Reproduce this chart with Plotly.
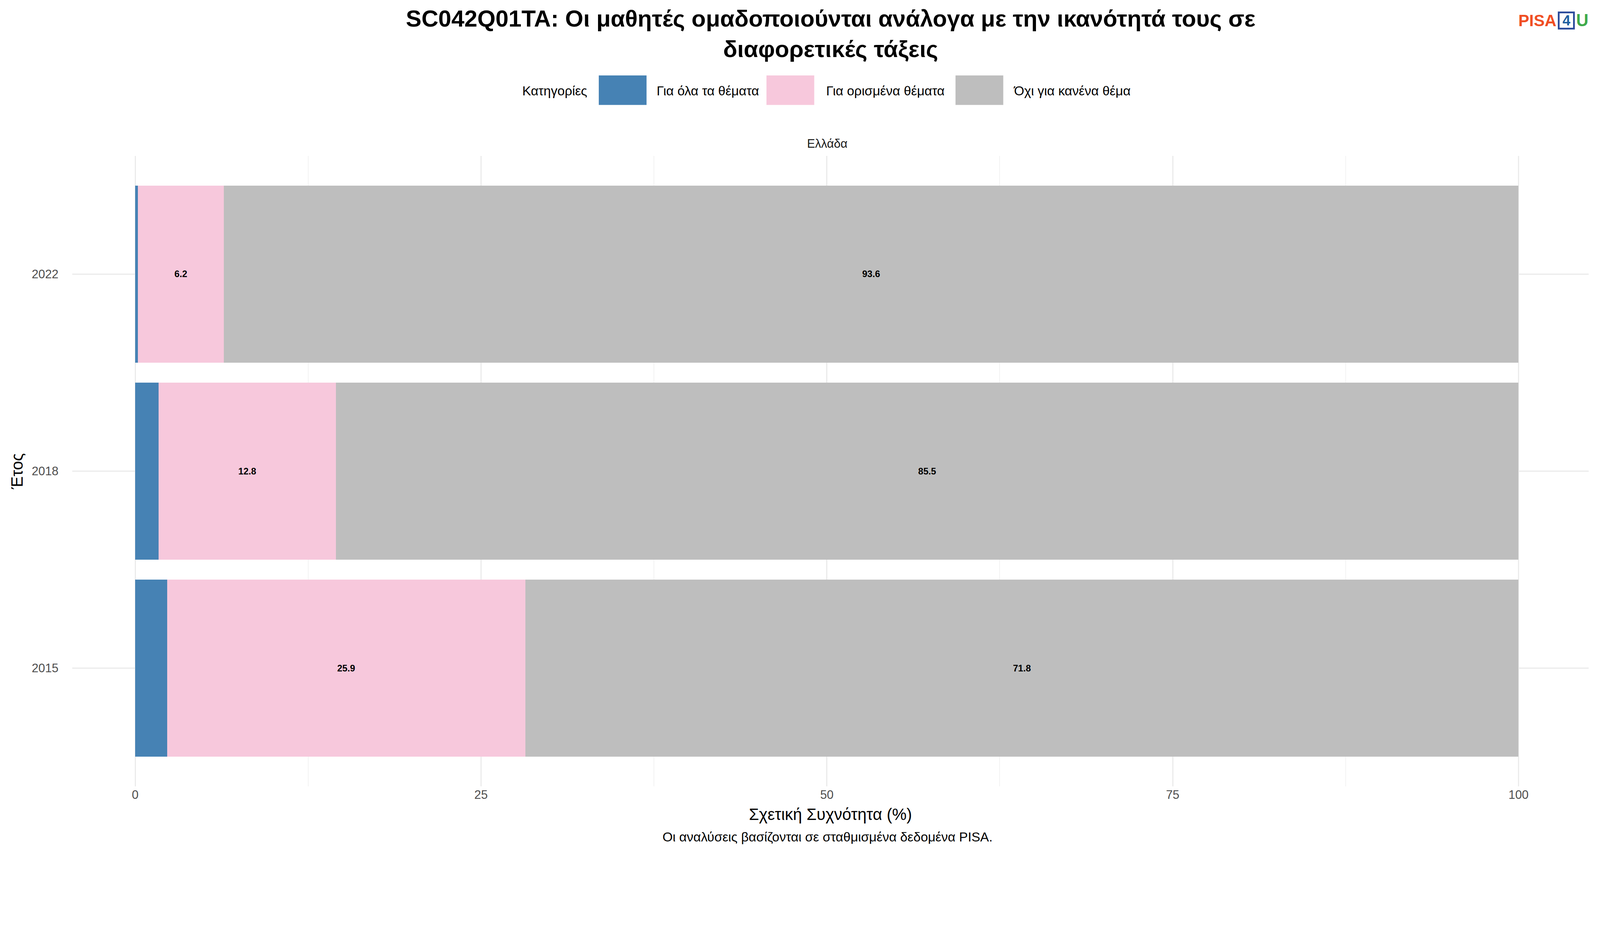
import plotly.graph_objects as go

years = ["2015", "2018", "2022"]
cats = ["Για όλα τα θέματα", "Για ορισμένα θέματα", "Όχι για κανένα θέμα"]
all_subj = [2.3, 1.7, 0.2]
some_subj = [25.9, 12.8, 6.2]
none_subj = [71.8, 85.5, 93.6]
colors = ["#4682B4", "#F7C8DC", "#BEBEBE"]
series = [all_subj, some_subj, none_subj]

K = 1 / 1.103
W, H = round(4500 * K), round(2400 * K)
S = W / 1568.0
L, R, T, B = 195 * K, 23 * K, 431 * K, 190 * K
PW = W - L - R
PH = H - T - B

def f(s):
    return s * K

def px(xd):
    return (xd * S - L) / PW

def py(yd):
    return 1 - (yd * S - T) / PH

fig = go.Figure()
for name, vals, col in zip(cats, series, colors):
    fig.add_trace(go.Bar(
        y=years, x=vals, name=name, orientation="h", marker=dict(color=col, line_width=0),
        width=0.9, showlegend=False,
        text=[f"{v:.1f}" if v >= 3 else "" for v in vals], textposition="inside",
        insidetextanchor="middle", textangle=0,
        textfont=dict(family="Liberation Sans", size=f(26), color="black", weight="bold"),
    ))

fig.update_layout(
    barmode="stack", width=W, height=H,
    margin=dict(l=L, r=R, t=T, b=B),
    paper_bgcolor="white", plot_bgcolor="white",
    font=dict(family="Liberation Sans", color="#333"),
    xaxis=dict(range=[-4.55, 105.07], tickvals=[0, 25, 50, 75, 100], showgrid=True,
               gridcolor="#EBEBEB", gridwidth=3, zeroline=False, ticks="",
               tickfont=dict(size=f(34), color="#4D4D4D"),
               minor=dict(tickvals=[12.5, 37.5, 62.5, 87.5], showgrid=True, gridcolor="#F3F3F3", gridwidth=2),
               title=dict(text="Σχετική Συχνότητα (%)", font=dict(size=f(46), color="black"), standoff=f(20))),
    yaxis=dict(categoryorder="array", categoryarray=years, range=[-0.6, 2.6],
               showgrid=True, gridcolor="#EBEBEB", gridwidth=3, ticks="",
               tickfont=dict(size=f(34), color="#4D4D4D"), ticksuffix="    ",
               title=dict(text="Έτος", font=dict(size=f(46), color="black"), standoff=f(10))),
)

ann = []
ann.append(dict(text="<b>SC042Q01TA: Οι μαθητές ομαδοποιούνται ανάλογα με την ικανότητά τους σε<br>διαφορετικές τάξεις</b>",
                x=px(814), y=py(30), xref="paper", yref="paper", showarrow=False,
                font=dict(size=f(66), color="black"), xanchor="center", yanchor="middle"))
ann.append(dict(text="Ελλάδα", x=px(811), y=py(138), xref="paper", yref="paper", showarrow=False,
                font=dict(size=f(34), color="#1A1A1A"), xanchor="center", yanchor="middle"))
ann.append(dict(text="Οι αναλύσεις βασίζονται σε σταθμισμένα δεδομένα PISA.", x=px(811), y=py(820),
                xref="paper", yref="paper", showarrow=False, font=dict(size=f(37), color="black"),
                xanchor="center", yanchor="middle"))
ann.append(dict(text="Κατηγορίες", x=px(510), y=py(86), xref="paper", yref="paper", showarrow=False,
                font=dict(size=f(37), color="black"), xanchor="left", yanchor="middle"))
shapes = []
sw = [(586, 642, cats[0]), (751, 809, cats[1]), (937, 993, cats[2])]
for (x0, xl, name), col in zip(sw, colors):
    shapes.append(dict(type="rect", xref="paper", yref="paper", x0=px(x0), x1=px(x0 + 47),
                       y0=py(100), y1=py(71), fillcolor=col, line_width=0))
    ann.append(dict(text=name, x=px(xl), y=py(86), xref="paper", yref="paper", showarrow=False,
                    font=dict(size=f(37), color="black"), xanchor="left", yanchor="middle"))
# logo
ann.append(dict(text="<b><span style='color:#F04E23'>PISA</span></b>", x=px(1529), y=py(17), xref="paper", yref="paper",
                showarrow=False, font=dict(size=f(46)), xanchor="right", yanchor="middle"))
ann.append(dict(text="<b><span style='color:#1F5FA0'>4</span></b>", x=px(1538), y=py(17), xref="paper", yref="paper",
                showarrow=False, font=dict(size=f(40)), xanchor="center", yanchor="middle"))
ann.append(dict(text="<b><span style='color:#3FAA4A'>U</span></b>", x=px(1547), y=py(17), xref="paper", yref="paper",
                showarrow=False, font=dict(size=f(48)), xanchor="left", yanchor="middle"))
shapes.append(dict(type="rect", xref="paper", yref="paper", x0=px(1530.5), x1=px(1545.5), y0=py(25), y1=py(9),
                   line=dict(color="#2B4B9B", width=f(5)), fillcolor="rgba(0,0,0,0)"))
fig.update_layout(annotations=ann, shapes=shapes)
fig.write_html("out.html")
